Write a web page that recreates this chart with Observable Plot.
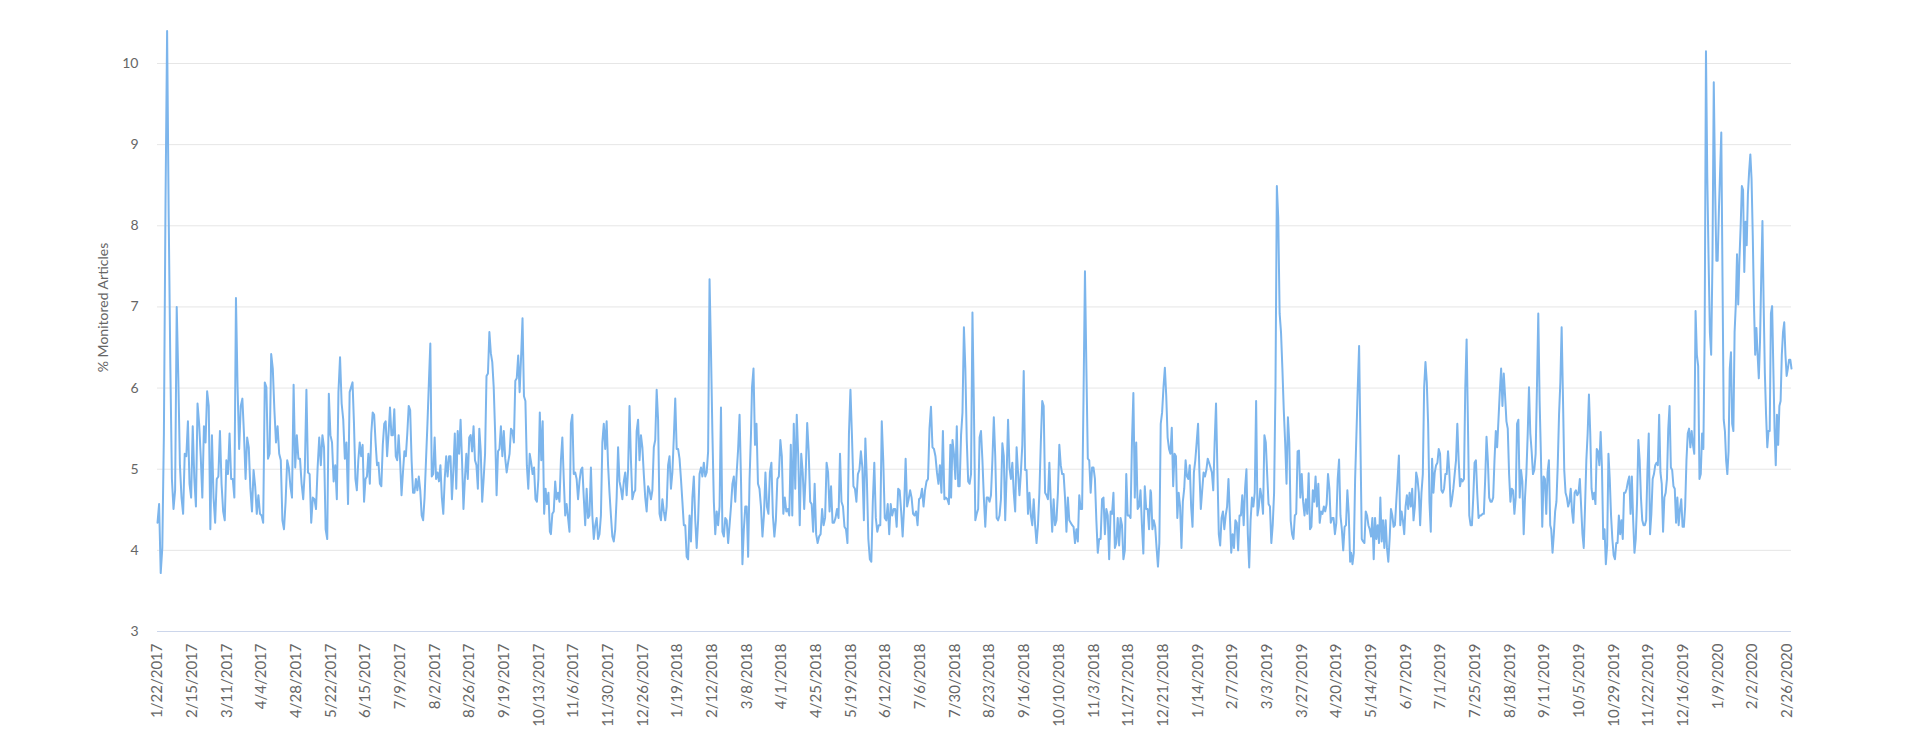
<!DOCTYPE html>
<html>
<head>
<meta charset="utf-8">
<script src="https://cdn.jsdelivr.net/npm/d3@7"></script>
<script src="https://cdn.jsdelivr.net/npm/@observablehq/plot@0.6"></script>
<style>
  html, body { margin: 0; padding: 0; background: #fff; }
  #chart svg { display: block; }
</style>
</head>
<body>
<div id="chart"></div>
<script>
// Category (tick) labels, one every 24 data points
const tickLabels = ["1/22/2017","2/15/2017","3/11/2017","4/4/2017","4/28/2017","5/22/2017","6/15/2017","7/9/2017","8/2/2017","8/26/2017","9/19/2017","10/13/2017","11/6/2017","11/30/2017","12/26/2017","1/19/2018","2/12/2018","3/8/2018","4/1/2018","4/25/2018","5/19/2018","6/12/2018","7/6/2018","7/30/2018","8/23/2018","9/16/2018","10/10/2018","11/3/2018","11/27/2018","12/21/2018","1/14/2019","2/7/2019","3/3/2019","3/27/2019","4/20/2019","5/14/2019","6/7/2019","7/1/2019","7/25/2019","8/18/2019","9/11/2019","10/5/2019","10/29/2019","11/22/2019","12/16/2019","1/9/2020","2/2/2020","2/26/2020"];
const tickStep = 24;
const yTicks = [3, 4, 5, 6, 7, 8, 9, 10];

// % Monitored Articles in consecutive stretches
const seg1 = [4.34,4.57,3.72,4.03,5.44,8.27,10.40,8.1,6.3,4.88,4.51,4.74,7.0,6.12,5.05,4.65,4.45,5.19,5.16,5.59,4.82,4.65,5.53,4.88,4.54,5.81,5.56,5.16,4.65,5.53,5.33,5.96,5.78,4.26,5.42,4.65,4.34,4.88,4.91,5.47,4.82,4.48,4.37,5.11,4.94,5.44,4.88,4.88,4.65,7.11,6.01,5.25,5.78,5.87,5.44,4.88,5.39,5.27,4.76,4.48,4.99,4.79,4.45,4.68,4.45,4.43,4.34,6.07,6.01,5.13,5.19,6.42,6.24,5.73,5.33,5.53,5.19,5.11,4.37,4.26,4.6,5.11,5.02,4.79,4.65,6.04,5.02,5.42,5.13,5.13,4.82,4.63,4.99,5.98,4.96,4.94,4.34,4.65,4.63,4.51,5.02,5.39,5.05,5.42,5.27,4.26,4.14,5.93,5.42,5.33,4.85,5.05,4.63,5.95,6.38,5.81,5.61,5.13,5.33,4.57,5.95];
const seg2 = [6.07,5.56,4.88,4.74,5.11,5.33,5.16,5.3,4.6,4.88,4.91,5.19,4.82,5.44,5.7,5.67,5.33,5.05,5.08,4.82,4.79,5.3,5.56,5.59,5.16,5.44,5.76,5.42,5.42,5.74,5.16,5.11,5.42,5.11,4.68,4.96,5.22,5.16,5.44,5.78,5.73,5.11,4.71,4.71,4.88,4.74,4.91,4.74,4.43,4.37,4.65,5.11,5.56,6.07,6.55,4.91,4.94,5.39,4.88,4.96,4.85,5.05,4.65,4.45,4.88,5.16,4.91,5.16,5.16,4.63,4.99,5.44,4.76,5.47,5.19,5.61,5.11,4.51,4.88,5.19,4.88,5.39,5.42,5.22,5.53,5.11,5.05,4.76,5.5,5.22,4.6,4.88,5.19,6.15,6.18,6.69,6.43,6.32,6.01,5.44,4.68,5.22,5.25,5.53,5.16,5.47,5.13,4.96,5.08,5.19,5.5,5.47,5.33,6.09,6.12,6.4,5.95,6.38,6.86,5.9,5.84,5.05,4.76,5.19,5.08,4.94,5.02,4.63,4.6,4.88,5.7,5.11,5.59,4.45,4.76,4.57,4.71,4.23];
const seg3 = [4.2,4.45,4.48,4.85,4.63,4.71,4.6,5.11,5.39,4.88,4.43,4.57,4.4,4.23,5.56,5.67,4.94,4.96,4.88,4.63,4.85,4.99,5.02,4.65,4.31,4.76,4.4,4.43,5.02,4.43,4.14,4.31,4.4,4.14,4.2,4.43,5.33,5.56,5.25,5.59,5.05,4.71,4.43,4.17,4.11,4.26,4.65,5.27,4.85,4.76,4.63,4.85,4.96,4.68,4.99,5.78,5.11,4.63,4.71,4.74,5.47,5.61,5.11,5.42,5.27,4.94,4.65,4.48,4.79,4.74,4.63,4.74,5.27,5.36,5.98,5.61,4.45,4.37,4.63,4.48,4.37,4.54,5.05,5.16,4.76,4.96,5.39,5.87,5.25,5.25,5.13,4.88,4.6,4.31,4.31,3.92,3.89,4.43,4.11,4.65,4.91,4.37,4.03,4.37,4.94,5.02,4.91,5.08,4.91,4.96,5.22,7.34,6.46,5.44,4.6,4.2,4.48,4.31,4.54,5.76,4.23,4.17,4.4,4.37,4.09,4.31,4.54,4.82,4.91,4.6,4.96,5.25,5.67,4.88,3.83,4.26,4.54,4.54,3.92,4.88,5.44];
const seg4 = [6.01,6.24,5.3,5.56,4.82,4.76,4.54,4.17,4.43,4.96,4.54,4.45,4.96,5.08,4.43,4.17,4.37,4.88,4.91,5.36,5.16,4.45,4.65,4.48,4.51,4.43,5.3,4.43,5.56,4.76,5.67,5.16,4.31,5.19,4.96,4.51,4.94,5.57,5.22,4.6,4.57,4.23,4.82,4.2,4.09,4.17,4.2,4.51,4.31,4.4,5.08,4.96,4.48,4.79,4.34,4.34,4.4,4.51,4.4,5.19,4.6,4.54,4.29,4.26,4.09,5.44,5.98,5.42,4.79,4.76,4.6,4.94,4.99,5.22,5.02,4.37,5.38,4.88,4.14,3.89,3.86,4.6,5.08,4.4,4.23,4.31,4.31,5.59,5.11,4.4,4.37,4.57,4.2,4.57,4.43,4.51,4.51,4.29,4.76,4.74,4.48,4.17,4.54,5.13,4.54,4.63,4.74,4.65,4.45,4.43,4.48,4.31,4.63,4.65,4.76,4.54,4.74,4.85,4.88,5.5,5.77,5.27,5.25,5.16,4.96,4.82,5.05,4.71,5.47,4.63,4.65,4.63,4.57,5.3];
const seg5 = [4.65,5.36,5.19,4.88,5.53,4.79,4.79,5.42,5.70,6.75,6.24,5.36,4.85,4.82,4.94,6.93,5.78,4.37,4.45,4.51,5.39,5.47,5.11,4.65,4.29,4.65,4.65,4.6,4.68,5.11,5.64,5.16,4.4,4.37,4.43,4.63,5.32,5.16,4.37,4.94,5.61,5.02,4.88,5.08,4.71,4.48,5.27,4.96,4.68,4.96,5.3,6.21,4.99,4.99,4.45,4.71,4.43,4.31,4.63,4.31,4.09,4.31,4.71,5.33,5.84,5.78,4.71,4.68,4.63,5.08,4.6,4.23,4.63,4.31,4.37,4.71,5.3,5.05,4.94,4.94,4.65,4.23,4.65,4.37,4.34,4.31,4.29,4.09,4.26,4.11,4.68,4.51,4.51,5.9,7.44,6.24,5.13,5.11,4.71,5.02,5.02,4.88,4.37,3.97,4.14,4.14,4.63,4.65,4.2,4.51,4.43,3.89,4.48,4.45,4.71,4.03,4.09,4.4,4.06,4.4,4.31,3.89,4.0,4.94,4.43,4.43,4.4,5.33,5.94,4.65,5.33,4.51,4.54,4.74,4.31,3.96,4.79,4.51,4.51,4.26,4.74];
const seg6 = [4.71,4.26,4.37,4.29,4.03,3.8,4.09,5.56,5.7,6.01,6.25,5.9,5.39,5.25,5.19,5.51,4.79,5.19,5.16,4.4,4.71,4.54,4.03,4.6,4.76,5.11,4.91,4.88,5.05,4.54,4.29,4.96,5.11,5.33,5.56,4.96,4.51,4.74,4.96,4.91,4.99,5.13,5.08,5.02,4.96,4.74,5.33,5.81,4.99,4.2,4.06,4.4,4.48,4.26,4.43,4.54,4.88,4.43,3.97,4.2,4.03,4.37,4.34,4.0,4.43,4.43,4.68,4.31,4.76,5.0,4.2,3.79,4.37,4.65,4.54,4.71,5.84,4.43,4.54,4.76,4.65,4.45,5.42,5.33,4.94,4.57,4.54,4.09,4.31,4.71,6.01,8.49,8.1,6.92,6.69,6.24,5.73,5.33,4.82,5.64,5.33,4.37,4.2,4.14,4.43,4.45,5.22,5.23,4.65,4.94,4.6,4.43,4.63,4.45,4.95,4.26,4.29,4.74,4.6,4.91,4.54,4.82,4.34,4.48,4.45,4.54,4.48,4.57,4.94,4.76,4.34,4.4,4.4,4.2,4.34,4.88,5.12,4.43,4.26,4.0,4.29,4.31,4.74,4.45,3.86];
const seg7 = [3.97,3.83,3.97,4.88,5.44,6.01,6.52,5.33,4.14,4.11,4.09,4.48,4.43,4.31,4.26,4.17,4.4,3.89,4.4,4.14,4.31,4.09,4.65,4.11,4.37,4.03,4.37,4.03,3.86,4.14,4.51,4.43,4.29,4.31,4.6,4.88,5.17,4.31,4.48,4.37,4.2,4.54,4.68,4.51,4.71,4.54,4.76,4.37,4.54,4.96,4.88,4.71,4.31,4.71,4.94,6.01,6.32,6.07,5.56,4.6,4.23,5.13,4.71,4.96,5.05,5.08,5.25,5.19,4.74,4.71,4.76,4.94,4.94,5.22,4.96,4.54,4.63,4.76,4.94,5.11,5.56,5.11,4.79,4.88,4.85,4.88,6.01,6.6,5.56,4.43,4.31,4.31,4.65,5.08,5.11,4.71,4.4,4.43,4.43,4.45,4.45,4.88,5.4,5.11,4.65,4.6,4.6,4.65,5.11,5.47,5.27,5.61,5.95,6.24,5.78,6.18,5.9,5.59,5.5,4.94,4.6,4.76,4.74,4.45,4.65,5.56,5.61,4.65,4.99,4.85,4.2,4.65,4.94,5.42,6.01,5.44,5.22,4.94,4.99,5.19,6.01,6.92,5.84,5.16,4.29,4.91,4.88,4.45,4.96,5.11,4.31];
const seg8 = [4.26,3.97,4.2,4.48,4.6,5.05,5.67,6.07,6.75,5.9,4.99,4.71,4.65,4.54,4.6,4.76,4.48,4.34,4.71,4.74,4.68,4.71,4.88,4.54,4.2,4.03,4.54,5.11,5.44,5.92,5.44,4.76,4.63,4.71,4.57,5.25,5.22,5.05,5.46,5.02,4.14,4.26,3.83,4.06,5.19,4.88,4.43,4.14,3.94,3.89,4.09,4.09,4.43,4.2,4.37,4.14,4.71,4.71,4.76,4.85,4.91,4.45,4.91,4.37,3.97,4.14,4.6,5.36,5.11,4.65,4.37,4.31,4.31,4.37,4.99,5.44,4.2,4.45,4.88,4.94,5.05,5.08,5.05,5.67,4.96,4.82,4.23,4.65,4.71,4.88,5.5,5.78,5.02,4.99,4.79,4.76,4.34,4.65,4.31,4.51,4.63,4.29,4.29,4.54,5.11,5.44,5.5,5.27,5.47,5.3,5.19,6.95,6.41,6.27,4.88,4.94,5.44,5.25,6.69,10.15,8.61,7.59,6.69,6.41,7.59,9.77,8.49,7.57,7.57,8.22];
const seg9 = [9.15,7.37,5.61,5.47,5.11,4.94,5.22,6.24,6.44,5.56,5.47,6.69,7.03,7.65,7.03,7.59,7.99,8.49,8.44,7.43,8.05,7.76,8.39,8.67,8.88,8.58,7.88,7.03,6.41,6.74,6.41,6.12,6.58,7.37,8.06,7.03,6.18,5.67,5.27,5.47,5.47,6.92,7.01,6.24,5.5,5.05,5.67,5.3,5.78,5.84,6.41,6.69,6.81,6.41,6.15,6.24,6.35,6.35,6.24];
// first and last data-point index covered by each stretch
const segRanges = [[0,133],[135,271.6],[272.3,410.8],[411.5,548.8],[549.3,687.3],[687.7,825.5],[826.2,964],[964.7,1080.8],[1082.4,1131]];
const lastIndex = 1131;

const segs = [seg1, seg2, seg3, seg4, seg5, seg6, seg7, seg8, seg9];
const data = [];
segs.forEach((seg, s) => {
  const [a, b] = segRanges[s];
  seg.forEach((v, i) => data.push({i: a + (b - a) * i / (seg.length - 1), v}));
});
const tickIdx = tickLabels.map((_, k) => k * tickStep);

const chart = Plot.plot({
  width: 1920,
  height: 740,
  marginLeft: 157,
  marginRight: 129,
  marginTop: 63,
  marginBottom: 109,
  style: {fontFamily: "Lato, 'Open Sans', sans-serif", fontSize: "14px", color: "#666", background: "#fff", overflow: "visible"},
  x: {domain: [0, lastIndex]},
  y: {domain: [3, 10]},
  marks: [
    Plot.ruleY(yTicks.filter(d => d > 3), {stroke: "#e6e6e6", strokeWidth: 1}),
    Plot.ruleY([3], {stroke: "#ccd6eb", strokeWidth: 1}),
    Plot.axisY(yTicks, {tickSize: 0, tickPadding: 19, label: null, tickFormat: d => String(d), fontSize: 14, fill: "#666"}),
    Plot.axisX(tickIdx, {tickFormat: d => tickLabels[Math.round(d / tickStep)], tickRotate: -90, tickSize: 0, tickPadding: 12, label: null, fontSize: 15, fill: "#666"}),
    Plot.text(["% Monitored Articles"], {frameAnchor: "left", textAnchor: "middle", dx: -54, dy: -40, rotate: -90, fontSize: 14, fill: "#666"}),
    Plot.line(data, {x: "i", y: "v", stroke: "#7cb5ec", strokeWidth: 2, strokeLinejoin: "round"})
  ]
});
document.getElementById("chart").append(chart);
</script>
</body>
</html>
